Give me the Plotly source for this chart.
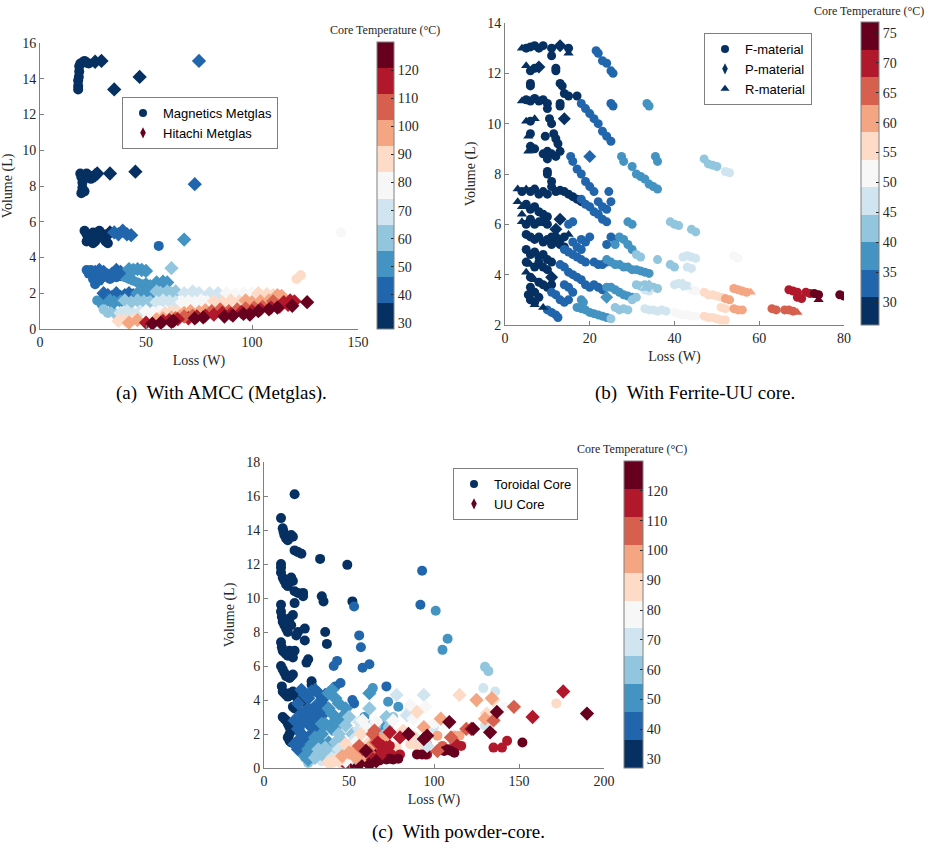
import plotly.graph_objects as go

# ---------------- DATA (loss W, volume L, core temperature degC) ----------------
# (a) AMCC (Metglas)
amcc_magnetics = [
    (18,13.4,32),(18,13.6,32),(18,13.9,32),(18.3,14.1,32),(18.5,14.4,32),(18.5,14.7,32),(19,14.85,32),
    (20,14.9,32),(21,15.0,32),(22,14.9,32),(23,14.85,32),
    (19,8.7,32),(19.5,8.5,32),(20,8.2,32),(20,7.9,32),(19.5,7.6,32),(21,7.7,32),(22,8.7,32),(23,8.6,32),(24,8.4,32),
    (21,5.5,32),(22,5.3,32),(23,5.0,32),(24,5.2,32),(25,5.4,32),(26,4.9,32),(27,5.3,32),(28,5.5,32),(29,5.1,32),
    (30,5.3,32),(31,4.9,32),(32,4.8,32),(25,4.8,32),(22,4.9,32),(56,4.65,42),(142,5.4,79),
    (22,3.3,42),(23,3.1,42),(24,3.3,42),(25,2.8,42),(26,2.5,42),(28,2.7,42),(30,2.9,42),(33,2.8,42),(36,2.9,42),
    (38,2.95,42),(40,2.9,51),(42,2.8,51),(44,2.7,51),(46,2.6,51),(48,2.5,51),
    (121,2.8,88),(123,3.0,88),
    (27,1.6,51),(29,1.4,51),(31,1.5,51),(30,1.1,60),(32,0.9,60),(34,1.0,60),(36,0.8,60),
]
amcc_hitachi = [
    (26,14.95,32),(29,15.0,32),(35,13.4,32),(47,14.1,32),(75,15.0,42),
    (26,8.6,32),(27,8.7,32),(33,8.7,32),(45,8.8,32),(73,8.1,42),
    (33,5.4,32),(35,5.4,42),(37,5.3,42),(39,5.5,42),(41,5.3,42),(43,5.25,42),(68,5.0,51),
    (26,3.2,42),(27,3.0,42),(28,3.3,42),(30,3.2,42),(32,3.0,42),(34,3.1,42),(36,3.3,42),(38,3.2,42),
    (42,3.35,51),(44,3.3,51),(46,3.35,51),(48,3.3,51),(50,3.25,51),(50,2.5,51),(52,2.4,51),(55,2.6,51),
    (58,2.65,51),(60,2.6,51),(62,3.4,60),
    (30,2.0,42),(32,1.9,42),(34,1.8,42),(36,2.0,42),(38,1.8,42),(40,1.9,42),(42,2.0,42),(44,1.9,42),
    (46,2.0,51),(48,1.9,51),(50,2.1,51),(53,2.0,51),(55,2.1,60),(57,2.0,60),(60,2.1,60),(62,2.0,60),(64,2.1,60),
    (68,2.0,70),(72,2.1,70),(75,2.0,70),(80,2.0,70),(84,2.0,70),(88,2.0,79),(92,1.95,79),(96,2.0,79),(100,2.0,79),
    (103,2.0,88),(107,1.95,88),(110,1.9,88),(112,1.9,97),(114,1.85,97),
    (33,1.6,51),(35,1.5,51),(38,1.55,51),(40,1.6,60),(43,1.5,60),(46,1.6,60),(49,1.55,60),(52,1.5,60),
    (55,1.5,70),(58,1.6,70),(61,1.55,70),(64,1.5,70),(67,1.5,79),(70,1.55,79),(73,1.5,79),(76,1.6,79),(79,1.5,79),
    (82,1.55,88),(86,1.5,88),(90,1.6,88),(94,1.55,88),(97,1.6,97),(100,1.5,97),(104,1.55,97),(108,1.6,97),
    (110,1.55,107),(115,1.5,116),(118,1.6,116),(120,1.55,116),(126,1.5,125),
    (38,0.9,70),(41,1.0,70),(44,0.85,70),(47,0.95,70),(50,1.0,79),(53,0.9,79),(56,0.95,79),(59,0.9,88),
    (62,1.0,88),(65,0.95,88),(68,0.9,97),(71,1.0,97),(75,0.95,97),(78,1.05,97),(81,1.0,107),(85,1.1,107),
    (89,1.0,107),(93,1.1,107),(97,1.15,107),(101,1.2,107),(105,1.25,107),
    (70,0.6,116),(74,0.7,116),(78,0.75,116),(82,0.8,116),(86,0.9,116),(90,0.85,116),(95,0.95,116),(100,1.0,116),
    (104,1.1,116),(109,1.2,116),(113,1.25,116),(117,1.35,116),
    (87,0.7,125),(91,0.75,125),(96,0.85,125),(99,0.8,125),(103,1.0,125),(108,1.1,125),(112,1.2,125),(119,1.3,125),
    (37,0.45,88),(40,0.5,88),(44,0.55,88),(42,0.35,97),(46,0.5,97),(55,0.55,97),(58,0.6,97),(62,0.65,97),
    (66,0.7,97),(64,0.6,107),(68,0.7,107),(72,0.75,107),(50,0.35,116),(58,0.45,116),(61,0.5,116),(65,0.55,116),
    (53,0.3,125),(57,0.35,125),(62,0.4,125),(63,0.45,125),(73,0.6,125),(77,0.65,125),
]

# (b) Ferrite-UU core
ferrite_f = [
    (5,13.0,28),(6,13.05,28),(7,13.1,28),(8,13.0,28),(9,13.1,28),(11,13.0,28),(11,12.7,28),(15,13.0,28),
    (6,12.1,28),(7,12.2,28),(12,12.1,28),(12,12.2,28),(6,11.6,28),(6,11.5,28),(13,11.6,28),(13.5,11.5,28),
    (14,11.2,28),(15,11.1,28),(17,11.1,28),(5,10.95,28),(6,10.9,28),(7,11.0,28),(8,10.9,28),(9,10.95,28),
    (10,10.8,28),(10,10.6,28),(13,10.8,28),(13,10.7,28),(6,10.1,28),(10.5,10.2,28),(11,10.0,28),
    (6,9.6,28),(9.5,9.5,28),(11.5,9.6,28),(12,9.4,28),(12.5,9.2,28),(6,9.1,28),(7,9.0,28),(9,8.8,28),(10,8.9,28),
    (11,8.8,28),(12,8.7,28),(13,8.9,28),(10,8.6,28),(10,8.1,28),(10,8.0,28),(11,7.7,28),(11,7.5,28),
    (4,7.3,28),(6,7.3,28),(7,7.4,28),(8,7.2,28),(9,7.3,28),(10,7.2,28),(12,7.3,28),(13,7.35,28),(14,7.3,28),
    (15,7.2,28),(16,7.1,28),(17,7.0,28),(18,6.9,28),(5,6.8,28),(6,6.6,28),(7,6.7,28),(8,6.5,28),(9,6.4,28),
    (10,6.3,28),(5,6.0,28),(6,6.2,28),(7,6.0,28),(8,6.1,28),(9,6.1,28),(10,6.0,28),
    (5,5.6,28),(6,5.5,28),(7,5.4,28),(8,5.5,28),(9,5.3,28),(10,5.4,28),(11,5.5,28),(12,5.3,28),(13,5.2,28),
    (14,5.1,28),(11,5.2,28),(12,5.5,28),(13,5.4,28),(14,5.5,28),(5,5.0,28),(6,4.8,28),(7,4.9,28),(8,4.7,28),
    (9,4.8,28),(10,4.6,28),(11,4.5,28),(5,4.5,28),(7,4.3,28),(8,4.5,28),(9,4.3,28),(10,4.2,28),(6,3.9,28),
    (8,3.7,28),(9,3.6,28),(10,3.5,28),(11,3.6,28),(6,3.5,28),(7,3.3,28),(5.5,3.2,28),(6,3.0,28),(7,2.9,28),(8,3.1,28),
    (21.5,12.9,33),(22,12.8,33),(23,12.5,33),(24,12.4,33),(25,12.1,33),(25.5,12.0,33),
    (18,10.8,33),(19,10.6,33),(20,10.4,33),(21,10.2,33),(22,10.0,33),(23,9.7,33),(24,9.5,33),(25,9.3,33),
    (25,10.8,33),(25.5,10.7,33),(15.5,8.7,33),(16,8.5,33),(17,8.2,33),(18,8.0,33),(19,7.7,33),(20,7.5,33),
    (21,7.3,33),(18,7.0,33),(19,6.8,33),(20,6.7,33),(21,6.5,33),(22,6.4,33),(23,6.2,33),(24,6.1,33),
    (22,6.9,33),(23,6.7,33),(24,6.6,33),(24.5,7.3,33),(25,6.9,33),(15,6.0,33),(16,6.1,33),
    (14,5.0,33),(15,4.9,33),(16,4.8,33),(17,4.7,33),(18,4.6,33),(19,4.5,33),(16,5.3,33),(17,5.1,33),(18,5.0,33),
    (18,5.4,33),(19,5.3,33),(20,5.5,33),(13,4.4,33),(14,4.3,33),(15,4.1,33),(16,4.0,33),(17,3.9,33),(18,3.8,33),
    (11,3.3,33),(12,3.2,33),(13,3.0,33),(14,2.9,33),(15,3.0,33),(10,2.6,33),(11,2.5,33),(12,2.4,33),(12.5,2.3,33),
    (14,3.6,33),(15,3.5,33),(16,3.3,33),(21,4.5,33),(22,4.4,33),(23,4.4,33),(24,4.5,33),(24,5.2,33),(25,5.5,33),
    (26,5.4,33),(19,3.6,33),(20,3.5,33),(21,3.6,33),(22,3.5,33),(23,3.4,33),
    (27.5,8.7,38),(28,8.5,38),(30,8.3,38),(31,8.0,38),(32,7.9,38),(33,7.8,38),(34,7.6,38),(35,7.5,38),(36,7.4,38),
    (35.5,8.7,38),(36,8.5,38),(33.5,10.8,38),(34,10.7,38),(29,6.1,38),(30,6.0,38),(27,5.5,38),(28,5.4,38),
    (29,5.2,38),(30,5.0,38),(26,5.2,38),(24,4.6,38),(25,4.5,38),(26,4.4,38),(27,4.4,38),(28,4.3,38),(29,4.3,38),
    (30,4.2,38),(31,4.2,38),(32,4.15,38),(33,4.1,38),(34,4.05,38),(25,3.5,38),(26,3.4,38),(27,3.3,38),(28,3.2,38),
    (29,3.15,38),(30,3.1,38),(24,3.5,38),(17,2.7,38),(18,2.65,38),(19,2.6,38),(20,2.5,38),(21,2.45,38),(22,2.4,38),
    (23,2.35,38),(24,2.3,38),(18,3.0,38),(18.5,2.9,38),
    (39,6.1,42),(40,6.0,42),(41,5.95,42),(44,5.8,42),(45,5.7,42),(31,4.8,42),(32,4.7,42),(36,4.6,42),(39,4.4,42),
    (40,4.3,42),(31,3.6,42),(32,3.55,42),(33,3.6,42),(35,3.5,42),(36,3.45,42),(26,2.7,42),(27,2.6,42),
    (28,2.65,42),(29,2.6,42),(25,2.25,42),(30,3.0,42),(31,3.1,42),(47,8.6,42),(48,8.4,42),(49,8.35,42),(50,8.3,42),
    (42,4.7,47),(43,4.75,47),(44,4.7,47),(45,4.65,47),(43,4.3,47),(44,4.25,47),(40,3.6,47),(41,3.65,47),
    (43,3.55,47),(33,2.65,47),(34,2.6,47),(35,2.6,47),(36,2.55,47),(37,2.6,47),(38,2.55,47),(52,8.1,47),
    (53,8.05,47),(33,3.4,47),(34,3.35,47),
    (54,4.75,51.5),(55,4.65,51.5),(40,2.5,51.5),(41,2.45,51.5),(42,2.4,51.5),(43,2.4,51.5),(44,2.35,51.5),
    (45,2.35,51.5),(44,3.4,51.5),(45,3.35,51.5),
    (47,3.3,56),(48,3.2,56),(49,3.2,56),(50,3.15,56),(51,3.1,56),(47,2.35,56),(48,2.3,56),(49,2.3,56),
    (50,2.25,56),(51,2.2,56),(52,2.2,56),(51,2.7,56),(52,2.65,56),
    (54,3.45,61),(55,3.4,61),(56,3.35,61),(57,3.3,61),(52,3.05,61),(53,3.0,61),(54,2.65,61),(55,2.6,61),(56,2.6,61),
    (63,2.65,65),(64,2.6,65),(66,2.6,65),(67,2.6,65),(68,2.55,65),
    (67,3.4,70),(68,3.35,70),(69,3.3,70),(71,3.3,70),(72,3.25,70),(69,3.1,70),(70,3.05,70),
    (73,3.25,75),(74,3.2,75),(79,3.2,75),(80,3.15,75),
]
ferrite_p = [
    (13,13.1,28),(8,12.25,28),(14,10.2,28),(13,6.2,28),(12,5.8,28),(11,3.9,28),(20,8.7,33),(24,3.1,38),
    (34,3.55,42),(42,3.6,47),
]
ferrite_r = [
    (4,13.0,28),(15,12.8,28),(5,12.3,28),(4,10.9,28),(5,10.1,28),(7,10.2,28),(5.5,9.5,28),(5.5,8.9,28),
    (3,7.4,28),(5,7.4,28),(3,6.9,28),(4,6.7,28),(4,6.4,28),(4,6.1,28),(15,5.6,28),(7,3.8,28),(7,2.8,28),
    (9,2.7,28),(6,4.4,28),(5,4.1,28),(33,3.45,42),(43,3.5,47),(58,3.3,61),(69,2.5,65),(74,3.0,75),
]

# (c) powder core
powder_toroidal = [
    (10,14.7,32),(11,14.1,32),(11.5,13.9,32),(12,13.7,32),(13,13.5,32),(14,13.4,32),(16,13.7,32),(17,13.6,32),
    (18,12.8,32),(20,12.7,32),(22,12.6,32),(18,16.1,32),(10,12.0,32),(10,11.8,32),(10,11.5,32),(11,11.2,32),
    (12,11.0,32),(13,10.8,32),(14,10.7,32),(16,11.2,32),(17,11.0,32),(18,10.4,32),(20,10.3,32),(23,10.3,32),
    (23,10.1,32),(10,9.6,32),(10,9.2,32),(10.5,8.9,32),(11,8.6,32),(12,8.4,32),(13,8.2,32),(14,8.0,32),
    (15,8.8,32),(16,8.4,32),(17,9.0,32),(18,9.7,32),(20,8.0,32),(19,7.8,32),(10,7.4,32),(10.5,7.1,32),
    (11,6.9,32),(12,6.8,32),(13,6.7,32),(14,6.6,32),(15,6.9,32),(16,6.8,32),(17,6.5,32),(18,6.9,32),
    (10,6.0,32),(11,5.8,32),(12,5.6,32),(13,5.4,32),(14,5.4,32),(15,5.3,32),(16,5.4,32),(17,5.5,32),
    (10.5,4.8,32),(11,4.5,32),(12,4.4,32),(13,4.3,32),(14,4.2,32),(15,4.4,32),(16,4.3,32),(17,4.5,32),
    (19,4.2,32),(11,3.0,32),(12,2.9,32),(13,2.8,32),(14,2.6,32),(15,2.4,32),(16,2.2,32),(15,2.0,32),
    (14,1.8,32),(15,1.6,32),(16,1.5,32),(17,3.6,32),(18,3.5,32),(24,8.2,32),(24,7.5,32),(25,6.2,32),
    (26,6.4,32),(28,5.1,32),(28,4.9,32),(33,12.3,32),(34,10.1,32),(35,9.8,32),(36,8.0,32),(37,7.3,32),
    (49,11.95,32),(52,9.8,32),(20,4.0,32),(22,4.3,32),(23,3.9,32),
    (53,9.5,42),(56,7.8,42),(57,7.1,42),(58,5.9,42),(62,6.1,42),(93,11.6,42),(92,9.6,42),(43,6.3,42),
    (41,6.0,42),(45,5.0,42),(42,4.8,42),(52,4.0,42),(53,3.8,42),(72,4.8,42),
    (101,9.25,51),(108,7.6,51),(105,6.95,51),(64,4.7,51),(73,3.9,51),(79,3.6,51),(70,2.5,51),(59,3.0,51),
    (22,1.0,51),(24,0.6,60),(28,0.5,60),(30,0.9,60),(26,0.3,60),(34,0.4,70),
    (130,5.95,60),(132,5.7,60),(66,2.5,60),(73,2.4,60),(71,2.0,60),(76,3.0,60),
    (129,4.7,70),(136,4.5,70),(86,3.5,70),(75,2.8,70),(90,1.7,70),(100,2.4,70),(130,2.5,70),
    (141,3.6,79),(96,2.5,79),(100,2.6,79),(113,2.0,79),
    (172,3.8,88),(88,1.9,88),(78,1.2,88),(86,1.4,88),(90,1.3,88),(66,0.3,88),(92,1.2,88),(46,1.0,88),
    (52,1.2,88),(40,0.3,88),
    (96,1.4,97),(112,1.9,97),(115,1.9,97),(102,1.9,97),(68,1.7,97),(60,0.4,97),
    (64,1.0,107),(70,1.2,107),(56,0.5,107),(105,1.3,107),(58,0.9,107),
    (112,1.5,116),(116,1.3,116),(113,1.4,116),(135,1.2,116),(140,1.2,116),(143,1.6,116),(96,0.8,116),
    (69,1.6,116),(72,1.5,116),(74,1.3,116),(62,0.8,116),(64,0.6,116),(66,0.4,116),(80,0.8,116),(50,0.2,116),
    (47,0.3,116),(53,0.1,116),(58,1.2,116),(62,1.1,116),(66,1.2,116),(70,0.9,116),(75,0.8,116),(78,0.6,116),
    (54,0.6,116),(57,0.8,116),
    (152,1.5,125),(106,1.0,125),(108,1.1,125),(110,1.0,125),(112,0.9,125),(93,0.8,125),(95,0.8,125),
    (90,0.8,125),(72,0.5,125),(74,0.55,125),(68,0.45,125),(66,0.4,125),(60,0.5,125),(56,0.2,125),
    (62,0.6,125),(67,0.9,125),(58,0.4,125),(64,0.8,125),(70,0.7,125),(76,0.5,125),(79,0.55,125),
    (52,0.3,125),(61,0.3,125),
]
powder_uu = [
    (22,4.6,42),(24,4.3,42),(26,4.1,42),(28,4.5,42),(30,4.6,42),(32,4.4,42),(34,4.0,42),(26,3.5,42),
    (28,3.2,42),(30,3.6,42),(32,3.4,42),(34,3.1,42),(22,3.2,42),(24,2.9,42),(26,2.6,42),(28,2.8,42),
    (30,2.5,42),(32,2.3,42),(20,2.3,42),(22,2.0,42),(24,1.8,42),(26,1.5,42),(20,1.1,42),(22,1.3,42),
    (24,0.9,42),(28,2.0,42),(20,3.8,42),(36,4.3,42),(36,3.6,42),(18,2.8,42),(20,1.6,42),(18,1.4,42),
    (22,2.6,42),(30,3.0,42),
    (38,4.4,51),(40,4.6,51),(42,4.1,51),(44,3.8,51),(38,3.5,51),(40,3.2,51),(42,2.8,51),(36,2.6,51),
    (34,2.0,51),(30,1.8,51),(28,1.4,51),(26,1.1,51),(32,1.6,51),(24,0.7,51),(26,0.5,51),(40,2.3,51),
    (44,2.6,51),(62,4.4,51),(48,3.5,51),(46,3.0,51),(38,1.5,51),(62,2.4,51),(34,2.6,51),
    (44,2.0,60),(48,2.5,60),(50,3.0,60),(36,1.2,60),(34,0.8,60),(30,0.6,60),(32,1.1,60),(42,1.5,60),
    (46,1.6,60),(40,0.9,60),(62,3.5,60),(52,2.0,60),(72,3.0,60),
    (50,1.3,70),(54,1.8,70),(56,2.3,70),(44,1.1,70),(40,0.6,70),(48,0.8,70),(52,0.6,70),(78,4.3,70),
    (94,4.3,70),(84,3.1,70),(56,2.7,70),(63,2.4,70),(96,1.3,70),
    (58,2.8,79),(60,2.4,79),(54,1.5,79),(58,1.6,79),(48,0.4,79),(66,2.7,79),(86,3.7,79),(95,3.6,79),
    (88,2.9,79),(76,2.8,79),
    (61,1.4,88),(56,0.8,88),(52,1.0,88),(57,2.0,88),(42,0.5,88),(115,4.3,88),(131,3.2,88),(135,4.0,88),
    (90,3.3,88),(82,2.2,88),(44,0.4,88),(48,1.4,88),(38,0.3,88),
    (62,1.2,97),(58,1.0,97),(64,1.4,97),(60,0.7,97),(54,0.6,97),(66,1.7,97),(72,1.9,97),(94,2.4,97),
    (104,2.9,97),(125,4.0,97),(134,4.1,97),(130,2.9,97),(50,0.9,97),(54,1.1,97),(46,0.7,97),
    (64,2.0,107),(66,1.5,107),(68,1.3,107),(56,1.3,107),(58,1.1,107),(62,0.9,107),(65,2.2,107),
    (110,1.8,107),(119,2.3,107),(147,3.6,107),(135,2.8,107),(102,1.0,107),
    (70,1.0,116),(72,1.2,116),(67,1.5,116),(74,2.1,116),(68,0.7,116),(64,0.5,116),(158,3.0,116),
    (176,4.5,116),(122,2.3,116),(80,1.8,116),
    (60,1.0,125),(66,0.4,125),(94,1.7,125),(96,1.9,125),(109,2.7,125),(123,2.3,125),(133,2.1,125),
    (137,3.3,125),(190,3.2,125),(85,2.0,125),(62,0.2,125),
]

cbar_ticks_a = [30, 40, 50, 60, 70, 80, 90, 100, 110, 120]
cbar_ticks_b = [30, 35, 40, 45, 50, 55, 60, 65, 70, 75]
cbar_ticks_c = [30, 40, 50, 60, 70, 80, 90, 100, 110, 120]
captions = ["(a)&nbsp;&nbsp;With AMCC (Metglas).", "(b)&nbsp;&nbsp;With Ferrite-UU core.",
            "(c)&nbsp;&nbsp;With powder-core."]

# ---------------- STYLE ----------------
RDBU11 = ['#053061', '#2166ac', '#4393c3', '#92c5de', '#d1e5f0', '#f7f7f7',
          '#fddbc7', '#f4a582', '#d6604d', '#b2182b', '#67001f']
W, H = 939, 849
SERIF = "Liberation Serif"
SANS = "Liberation Sans"
TXT = "#262626"
AXC = "#808080"


def fx(px):
    return px / W


def fy(py):
    return 1 - py / H


def discrete_scale(colors):
    n = len(colors)
    s = []
    for i, c in enumerate(colors):
        s.append([i / n, c])
        s.append([(i + 1) / n, c])
    return s


def cols(rows):
    return [r[0] for r in rows], [r[1] for r in rows], [r[2] for r in rows]


fig = go.Figure()


def add_series(rows, symbol, size, xa, ya, cax):
    x, y, t = cols(rows)
    fig.add_trace(go.Scatter(
        x=x, y=y, mode="markers", xaxis=xa, yaxis=ya, showlegend=False, hoverinfo="skip",
        marker=dict(symbol=symbol, size=size, color=t, coloraxis=cax, line=dict(width=0), opacity=1),
    ))


add_series(amcc_magnetics, "circle", 10, "x", "y", "coloraxis")
add_series(amcc_hitachi, "diamond", 11, "x", "y", "coloraxis")
add_series(ferrite_f, "circle", 9, "x2", "y2", "coloraxis2")
add_series(ferrite_p, "diamond", 10, "x2", "y2", "coloraxis2")
add_series(ferrite_r, "triangle-up", 9, "x2", "y2", "coloraxis2")
add_series(powder_toroidal, "circle", 10, "x3", "y3", "coloraxis3")
add_series(powder_uu, "diamond", 11, "x3", "y3", "coloraxis3")


def add_legend_entry(name, symbol, color, xa, ya, leg):
    fig.add_trace(go.Scatter(
        x=[None], y=[None], mode="markers", xaxis=xa, yaxis=ya, name=name, legend=leg,
        marker=dict(symbol=symbol, size=8, color=color, line=dict(width=0)),
    ))


add_legend_entry("Magnetics Metglas", "circle", RDBU11[0], "x", "y", "legend")
add_legend_entry("Hitachi Metglas", "diamond-tall", RDBU11[-1], "x", "y", "legend")
add_legend_entry("F-material", "circle", RDBU11[0], "x2", "y2", "legend2")
add_legend_entry("P-material", "diamond-tall", RDBU11[0], "x2", "y2", "legend2")
add_legend_entry("R-material", "triangle-up", RDBU11[0], "x2", "y2", "legend2")
add_legend_entry("Toroidal Core", "circle", RDBU11[0], "x3", "y3", "legend3")
add_legend_entry("UU Core", "diamond-tall", RDBU11[-1], "x3", "y3", "legend3")


def axis(domain, rng, dtick, title, anchor, standoff):
    return dict(
        domain=domain, range=rng, dtick=dtick, anchor=anchor, showgrid=False, zeroline=False,
        showline=True, linecolor=AXC, linewidth=1, ticks="inside", ticklen=4, tickcolor=AXC,
        tickfont=dict(family=SERIF, size=14, color=TXT), automargin=False,
        title=dict(text=title, font=dict(family=SERIF, size=14, color=TXT), standoff=standoff),
    )


def cbar(x0, width, ytop, ybot, ticks):
    return dict(
        x=fx(x0), xanchor="left", thickness=width, thicknessmode="pixels",
        len=ybot - ytop, lenmode="pixels", y=fy((ytop + ybot) / 2), yanchor="middle",
        outlinecolor=AXC, outlinewidth=1, tickvals=ticks, ticks="inside", ticklen=3, tickcolor=TXT,
        tickfont=dict(family=SERIF, size=14, color=TXT), xpad=0, ypad=0,
    )


scale = discrete_scale(RDBU11)


def legend(x0, y0):
    return dict(
        x=fx(x0), y=fy(y0), xanchor="left", yanchor="top", bgcolor="white",
        bordercolor=AXC, borderwidth=1, font=dict(family=SANS, size=13, color="black"),
        tracegroupgap=0, itemwidth=30,
    )


fig.update_layout(
    width=W, height=H, margin=dict(l=0, r=0, t=0, b=0),
    template="none", paper_bgcolor="white", plot_bgcolor="white",
    xaxis=axis([fx(40), fx(358)], [0, 150], 50, "Loss (W)", "y", 6),
    yaxis=axis([fy(329), fy(43)], [0, 16], 2, "Volume (L)", "x", 8),
    xaxis2=axis([fx(505), fx(844)], [0, 80], 20, "Loss (W)", "y2", 6),
    yaxis2=axis([fy(325), fy(23)], [2, 14], 2, "Volume (L)", "x2", 8),
    xaxis3=axis([fx(264), fx(604)], [0, 200], 50, "Loss (W)", "y3", 6),
    yaxis3=axis([fy(768), fy(462)], [0, 18], 2, "Volume (L)", "x3", 8),
    coloraxis=dict(colorscale=scale, cmin=27.9, cmax=130, colorbar=cbar(377, 17, 42, 329, cbar_ticks_a)),
    coloraxis2=dict(colorscale=scale, cmin=26.2, cmax=76.8, colorbar=cbar(861, 18, 22, 325, cbar_ticks_b)),
    coloraxis3=dict(colorscale=scale, cmin=27, cmax=130, colorbar=cbar(624, 19, 461, 768, cbar_ticks_c)),
    legend=legend(122, 97),
    legend2=legend(704, 33),
    legend3=legend(453, 468),
)

title_font = dict(family=SERIF, size=12, color=TXT)
for cx, cy in [(385, 30), (869, 11), (632, 449)]:
    fig.add_annotation(text="Core Temperature (°C)", x=fx(cx), y=fy(cy), xref="paper", yref="paper",
                       showarrow=False, font=title_font, xanchor="center", yanchor="middle")

cap_font = dict(family=SERIF, size=19, color="black")
for text, cx, cy in zip(captions, [221, 695, 458], [393, 393, 832]):
    fig.add_annotation(text=text, x=fx(cx), y=fy(cy), xref="paper", yref="paper",
                       showarrow=False, font=cap_font, xanchor="center", yanchor="middle")

fig.write_html("out.html")
